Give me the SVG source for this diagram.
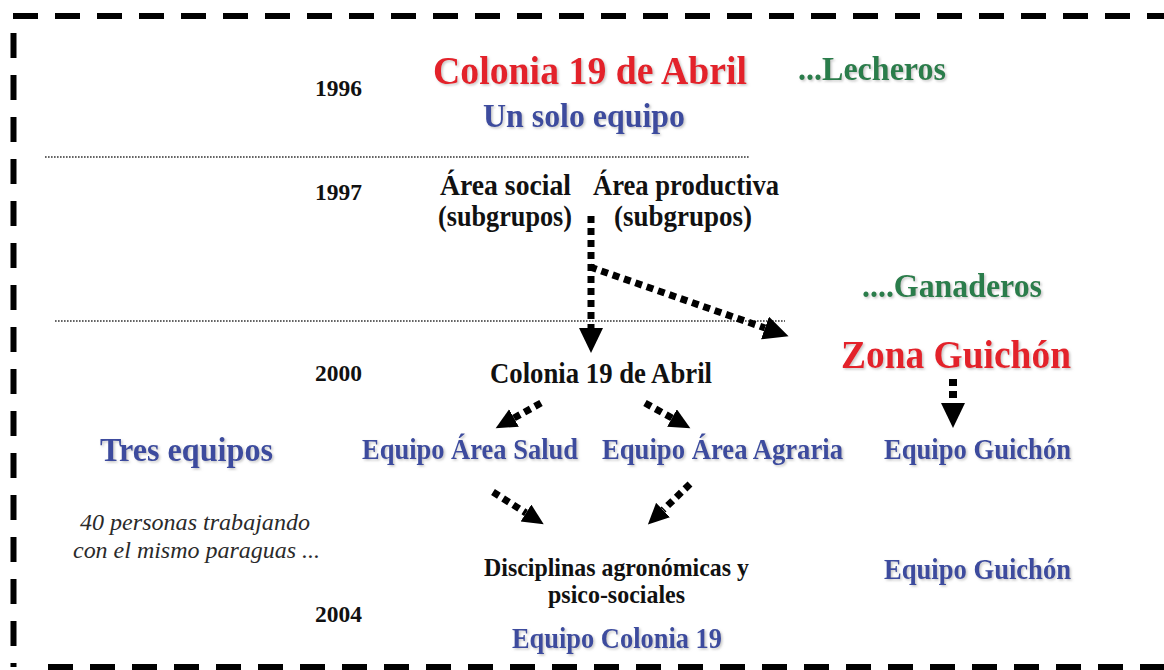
<svg xmlns="http://www.w3.org/2000/svg" width="1164" height="670" viewBox="0 0 1164 670">
  <style>
    text { font-family: "Liberation Serif", "Times New Roman", serif; font-weight: bold; text-anchor: middle; }
    .year { font-size: 23px; fill: #111; text-anchor: start; }
    .red { fill: #e3202b; filter: url(#sh); }
    .blue { fill: #3c4c9e; font-size: 28.5px; filter: url(#sh); }
    .green { fill: #2b7d4b; font-size: 34px; filter: url(#sh); }
    .blk { fill: #111; }
    .ital { font-style: italic; font-weight: normal; fill: #2a2a2a; font-size: 24px; }
    .border { stroke: #000; stroke-width: 6; stroke-dasharray: 25 17; fill: none; }
    .sep { stroke: #333; stroke-width: 1.6; stroke-dasharray: 1.6 1.4; fill: none; }
    .dots { stroke: #000; stroke-dasharray: 7 5; fill: none; }
  </style>
  <defs>
    <filter id="sh" x="-10%" y="-20%" width="120%" height="150%">
      <feDropShadow dx="1.5" dy="1.5" stdDeviation="0.8" flood-color="#999" flood-opacity="0.55"/>
    </filter>
    <marker id="headL" markerUnits="userSpaceOnUse" markerWidth="26" markerHeight="26" refX="0" refY="12" orient="auto">
      <path d="M0,0 L25,12 L0,24 z" fill="#000"/>
    </marker>
    <marker id="headS" markerUnits="userSpaceOnUse" markerWidth="22" markerHeight="22" refX="0" refY="10" orient="auto">
      <path d="M0,0 L21,10 L0,20 z" fill="#000"/>
    </marker>
  </defs>
  <rect width="1164" height="670" fill="#fff"/>

  <g id="frame">
    <line class="border" x1="13" y1="16" x2="1164" y2="16"/>
    <line class="border" x1="13.5" y1="33" x2="13.5" y2="667"/>
    <line class="border" x1="48" y1="667" x2="1164" y2="667"/>
  </g>

  <g id="separators">
    <line class="sep" x1="45" y1="157" x2="750" y2="157"/>
    <line class="sep" x1="55" y1="321" x2="785" y2="321"/>
  </g>

  <g id="years">
    <text class="year" x="315" y="96" textLength="47" lengthAdjust="spacingAndGlyphs">1996</text>
    <text class="year" x="315" y="200" textLength="47" lengthAdjust="spacingAndGlyphs">1997</text>
    <text class="year" x="315" y="381" textLength="47" lengthAdjust="spacingAndGlyphs">2000</text>
    <text class="year" x="315" y="622" textLength="47" lengthAdjust="spacingAndGlyphs">2004</text>
  </g>

  <g id="colonia-1996">
    <text class="red" x="590" y="84" font-size="41" textLength="314" lengthAdjust="spacingAndGlyphs">Colonia 19 de Abril</text>
    <text class="blue" x="584" y="127" style="font-size:34px" textLength="202" lengthAdjust="spacingAndGlyphs">Un solo equipo</text>
  </g>
  <g id="lecheros"><text class="green" x="872" y="80" textLength="148" lengthAdjust="spacingAndGlyphs">...Lecheros</text></g>

  <g id="area-social">
    <text class="blk" x="505.5" y="195" font-size="29" textLength="131" lengthAdjust="spacingAndGlyphs">Área social</text>
    <text class="blk" x="505" y="226" font-size="29" textLength="134" lengthAdjust="spacingAndGlyphs">(subgrupos)</text>
  </g>
  <g id="area-productiva">
    <text class="blk" x="686" y="195" font-size="29" textLength="186" lengthAdjust="spacingAndGlyphs">Área productiva</text>
    <text class="blk" x="683" y="226" font-size="29" textLength="138" lengthAdjust="spacingAndGlyphs">(subgrupos)</text>
  </g>

  <g id="ganaderos"><text class="green" x="952" y="297" textLength="180" lengthAdjust="spacingAndGlyphs">....Ganaderos</text></g>
  <g id="zona-guichon"><text class="red" x="956" y="368" font-size="41" textLength="230" lengthAdjust="spacingAndGlyphs">Zona Guichón</text></g>
  <g id="colonia-2000"><text class="blk" x="601" y="383" font-size="28.5" textLength="222" lengthAdjust="spacingAndGlyphs">Colonia 19 de Abril</text></g>

  <g id="tres-equipos"><text class="blue" x="186.5" y="461" style="font-size:34px" textLength="173" lengthAdjust="spacingAndGlyphs">Tres equipos</text></g>
  <g id="equipo-salud"><text class="blue" x="470" y="459" textLength="216" lengthAdjust="spacingAndGlyphs">Equipo Área Salud</text></g>
  <g id="equipo-agraria"><text class="blue" x="722.5" y="459" textLength="241" lengthAdjust="spacingAndGlyphs">Equipo Área Agraria</text></g>
  <g id="equipo-guichon-1"><text class="blue" x="977.5" y="459" textLength="187" lengthAdjust="spacingAndGlyphs">Equipo Guichón</text></g>

  <g id="nota">
    <text class="ital" x="195" y="530" textLength="230" lengthAdjust="spacingAndGlyphs">40 personas trabajando</text>
    <text class="ital" x="196.5" y="558" textLength="247" lengthAdjust="spacingAndGlyphs">con el mismo paraguas ...</text>
  </g>

  <g id="disciplinas">
    <text class="blk" x="616.5" y="576" font-size="25.5" textLength="265" lengthAdjust="spacingAndGlyphs">Disciplinas agronómicas y</text>
    <text class="blk" x="616.5" y="603" font-size="25.5" textLength="137" lengthAdjust="spacingAndGlyphs">psico-sociales</text>
  </g>
  <g id="equipo-guichon-2"><text class="blue" x="977.5" y="579" textLength="187" lengthAdjust="spacingAndGlyphs">Equipo Guichón</text></g>
  <g id="equipo-colonia"><text class="blue" x="617" y="648" textLength="210" lengthAdjust="spacingAndGlyphs">Equipo Colonia 19</text></g>

  <g id="connectors">
    <line class="dots" stroke-width="7" x1="591" y1="216" x2="591" y2="328" marker-end="url(#headL)"/>
    <line class="dots" stroke-width="7" x1="590" y1="267" x2="765" y2="328" marker-end="url(#headL)"/>
    <line class="dots" stroke-width="8" stroke-dasharray="9 5 30" x1="953" y1="379" x2="953" y2="403" marker-end="url(#headL)"/>
    <line class="dots" stroke-width="7" x1="541" y1="403" x2="514" y2="418" marker-end="url(#headS)"/>
    <line class="dots" stroke-width="7" x1="645" y1="403" x2="672" y2="418" marker-end="url(#headS)"/>
    <line class="dots" stroke-width="7" x1="493" y1="492" x2="526" y2="513" marker-end="url(#headS)"/>
    <line class="dots" stroke-width="7" x1="690" y1="484" x2="663" y2="510" marker-end="url(#headS)"/>
  </g>
</svg>
